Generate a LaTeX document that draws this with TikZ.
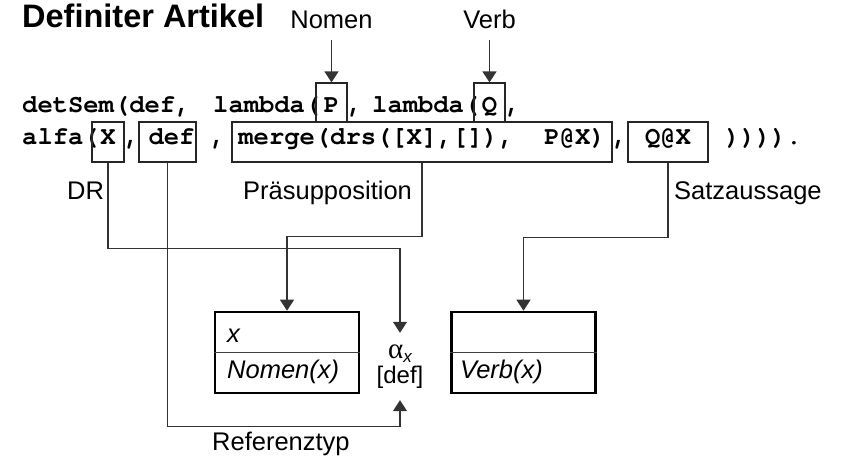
\documentclass[tikz,border=0pt]{standalone}
\usepackage{fontspec}
\setmainfont{Liberation Sans}
\newfontfamily\codefont{TeX Gyre Cursor}
\newfontfamily\greekfont{Liberation Serif}
\usetikzlibrary{arrows.meta}
\tikzset{
  code/.style={anchor=base west,inner sep=0pt,font=\codefont\bfseries\fontsize{25.5}{30}\selectfont},
  codebox/.style={code,anchor=base,draw=black!85,line width=1.2pt,minimum width=#1},
  rowone/.style={text height=30pt,text depth=9pt},
  rowtwo/.style={text height=23pt,text depth=17pt},
  lbl/.style={anchor=base west,inner sep=0pt,font=\fontsize{25.5}{30}\selectfont},
  drstext/.style={lbl,font=\itshape\fontsize{25.5}{30}\selectfont},
  drs/.style={draw,line width=2.6pt,minimum width=144pt,minimum height=81pt,inner sep=0pt},
  conn/.style={draw=black!80,line width=1.3pt,-{Triangle[width=14pt,length=11pt]}}
}
\begin{document}
\begin{tikzpicture}[x=1pt,y=-1pt]
  \useasboundingbox (0,0) rectangle (848,457);
  % 見出し
  \node (title) [anchor=base west,inner sep=0pt,font=\bfseries\fontsize{32.5}{36}\selectfont] at (22,28) {Definiter Artikel};
  \node (nomenlbl) [lbl,anchor=base] at (331.5,29) {Nomen};
  \node (verblbl) [lbl,anchor=base] at (489.5,29) {Verb};
  % 1行目
  \node (lonea) [code] at (22,113) {detSem(def,};
  \node (loneb) [code] at (213,113) {lambda(};
  \node (pbox) [codebox=31pt,rowone] at (331.5,113) {P};
  \node (lonec) [code] at (347,113) {,};
  \node (loned) [code] at (372,113) {lambda(};
  \node (qbox) [codebox=31pt,rowone] at (489.5,113) {Q};
  \node (lonee) [code] at (505,113) {,};
  % 2行目
  \node (ltwoa) [code] at (22,145) {alfa(};
  \node (xbox) [codebox=32pt,rowtwo] at (108,145) {X};
  \node (ltwob) [code] at (124,145) {,};
  \node (defbox) [codebox=57pt,rowtwo] at (167.5,145) {\hspace*{8pt}def};
  \node (ltwoc) [code] at (210,145) {,};
  \node (mergebox) [codebox=380pt,rowtwo] at (422,145) {merge(drs([X],[]),\ \ P@X)};
  \node (ltwod) [code] at (612,145) {,};
  \node (qxbox) [codebox=80pt,rowtwo] at (668,145) {Q@X};
  \node (ltwoe) [code] at (725,145) {)))).};
  \draw[conn,shorten <=11pt] (nomenlbl.south) -- (pbox.north);
  \draw[conn,shorten <=11pt] (verblbl.south) -- (qbox.north);
  % ラベル
  \node (drlbl) [lbl] at (67,200) {DR};
  \node (praelbl) [lbl] at (243,200) {Präsupposition};
  \node (satzlbl) [lbl] at (674,200) {Satzaussage};
  % DRS
  \node (nomen) [drs] at (287,352.5) {};
  \node (verb) [drs] at (523.5,352.5) {};
  \draw[black!75,line width=1.2pt] (nomen.west) -- (nomen.east);
  \draw[black!75,line width=1.2pt] (verb.west) -- (verb.east);
  \node (nomenref) [drstext] at (227,342) {x};
  \node (nomencond) [drstext] at (227,378) {Nomen(x)};
  \node (verbcond) [drstext] at (460,378) {Verb(x)};
  \node (alpha) [align=center,inner sep=0pt,minimum height=67pt,font=\fontsize{24}{25}\selectfont] at (400,366.5)
    {{\greekfont\fontsize{29}{25}\selectfont α}\raisebox{-4pt}{\fontsize{17}{17}\selectfont\itshape x}\\{[def]}};
  \node (reflbl) [lbl] at (212,450) {Referenztyp};
  % 結線
  \draw[conn] (xbox.south) -- ++(0,86) -| (alpha.north);
  \draw[conn] (defbox.south) -- ++(0,264) -| (alpha.south);
  \draw[conn] (mergebox.south) -- ++(0,74) -| (nomen.north);
  \draw[conn] (qxbox.south) -- ++(0,75) -| (verb.north);
\end{tikzpicture}
\end{document}
